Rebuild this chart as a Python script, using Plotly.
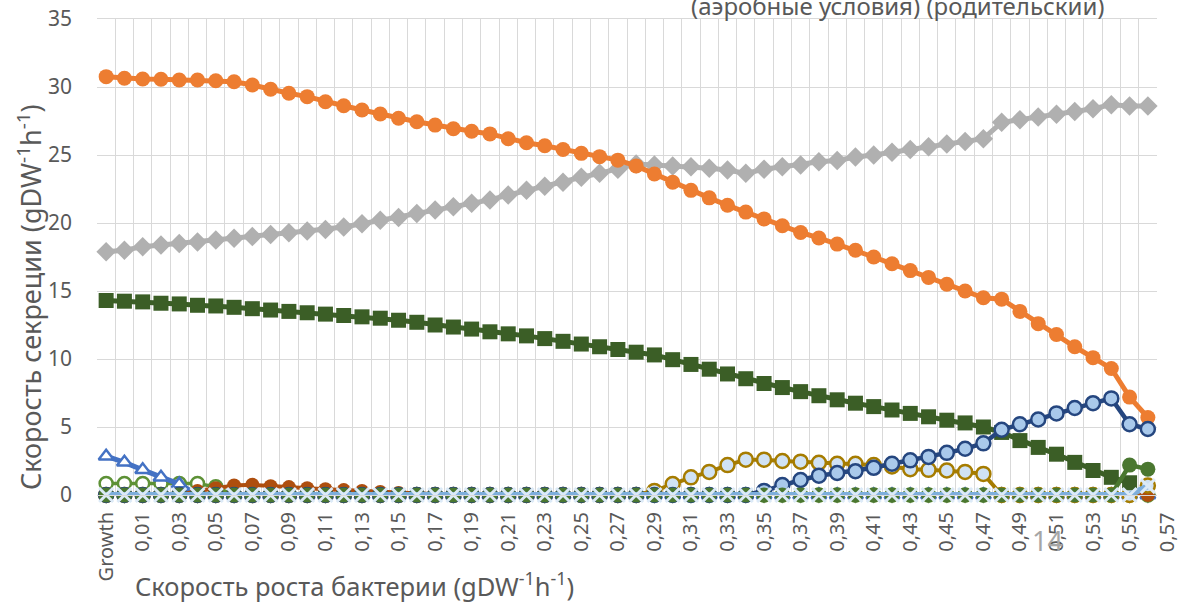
import plotly.graph_objects as go

# ---------------- data ----------------
categories = ["Growth", "0"] + ["0,%02d" % k for k in range(1, 57)]   # 58 categories
tick_labels = ["Growth"] + ["0,%02d" % k for k in range(1, 58, 2)]    # every 2nd category
extra_label = "0,57"

orange = [30.76, 30.64, 30.59, 30.57, 30.51, 30.51, 30.46, 30.39, 30.15, 29.83,
          29.54, 29.29, 28.92, 28.62, 28.31, 28.01, 27.70, 27.45, 27.20, 26.93,
          26.75, 26.55, 26.20, 25.90, 25.68, 25.40, 25.12, 24.88, 24.62, 24.20,
          23.60, 23.00, 22.40, 21.85, 21.30, 20.80, 20.30, 19.80, 19.30, 18.90,
          18.45, 18.00, 17.50, 17.00, 16.50, 16.00, 15.50, 15.00, 14.50, 14.40,
          13.50, 12.60, 11.80, 10.90, 10.10, 9.30, 7.20, 5.70]

gray = [17.89, 18.00, 18.26, 18.38, 18.50, 18.60, 18.75, 18.87, 19.00, 19.16,
        19.28, 19.42, 19.53, 19.70, 19.95, 20.20, 20.40, 20.70, 20.95, 21.20,
        21.45, 21.70, 22.06, 22.40, 22.70, 23.00, 23.36, 23.65, 23.95, 24.34,
        24.26, 24.19, 24.14, 24.02, 23.90, 23.65, 23.95, 24.14, 24.26, 24.50,
        24.60, 24.85, 25.00, 25.20, 25.40, 25.60, 25.80, 26.00, 26.20, 27.40,
        27.60, 27.80, 28.00, 28.20, 28.40, 28.70, 28.60, 28.60]

squares = [14.30, 14.25, 14.20, 14.10, 14.05, 13.95, 13.90, 13.80, 13.70, 13.60,
           13.50, 13.40, 13.30, 13.20, 13.10, 13.00, 12.85, 12.70, 12.50, 12.35,
           12.20, 12.00, 11.85, 11.70, 11.50, 11.30, 11.10, 10.90, 10.70, 10.50,
           10.30, 9.95, 9.60, 9.25, 8.90, 8.55, 8.20, 7.90, 7.60, 7.30,
           7.00, 6.75, 6.50, 6.25, 6.00, 5.75, 5.50, 5.30, 5.00, 4.60,
           4.00, 3.50, 3.00, 2.40, 1.80, 1.30, 0.90, None]

triangles = [2.85, 2.40, 1.85, 1.30, 0.80] + [0.0] * 53

green_open = [0.85, 0.85, 0.85, 0.85, 0.85, 0.85, 0.60] + [0.0] * 51

brown = [0.0] * 5 + [0.30, 0.50, 0.70, 0.75, 0.65, 0.58, 0.50, 0.42, 0.36, 0.30,
                     0.22, 0.15, 0.08] + [0.0] * 40

gold = [0.0] * 30 + [0.30, 0.80, 1.30, 1.70, 2.20, 2.60, 2.60, 2.50, 2.45, 2.37,
                     2.30, 2.30, 2.20, 2.10, 1.90, 1.85, 1.80, 1.70, 1.55, 0.0,
                     0.0, 0.0, 0.0, 0.0, 0.0, 0.0, 0.0, 0.70]

navy = [0.0] * 36 + [0.30, 0.73, 1.10, 1.42, 1.62, 1.75, 2.00, 2.30, 2.55, 2.80,
                     3.10, 3.40, 3.80, 4.80, 5.20, 5.55, 6.00, 6.40, 6.75, 7.10,
                     5.20, 4.85]

green_fill = [0.0] * 56 + [2.20, 1.90]

light_blue = [0.0] * 57 + [0.65]

dark_gray = [0.0] * 58

x = list(range(len(categories)))
n = len(categories)

fig = go.Figure()


def add(y, color, symbol, size, lw, fill=None, mline=None, mlw=0):
    fig.add_trace(go.Scatter(
        x=x, y=y, mode="lines+markers",
        line=dict(color=color, width=lw),
        marker=dict(symbol=symbol, size=size,
                    color=fill if fill else color,
                    line=dict(color=mline if mline else color, width=mlw)),
        showlegend=False, connectgaps=False, cliponaxis=False))


add(dark_gray, "#7F7F7F", "diamond", 13, 3)
add(green_open, "#5D9136", "circle", 13, 3.5, fill="white", mline="#5D9136", mlw=2.5)
add(triangles, "#4472C4", "triangle-up", 13, 5, fill="white", mline="#4472C4", mlw=2.5)
add(brown, "#AE4E0E", "circle", 14, 4)
add(gold, "#A67C00", "circle", 14, 4, fill="#D0E2F4", mline="#A67C00", mlw=2.5)
add(squares, "#3B5E26", "square", 15, 5)
add(gray, "#B0B0B0", "diamond", 15, 5)
add(orange, "#ED7D31", "circle", 15, 5)
add(navy, "#25467F", "circle", 14, 4.5, fill="#A9C9EB", mline="#25467F", mlw=2.5)
add(green_fill, "#4A7730", "circle", 15, 4.5)
add(light_blue, "#7DAEDC", "x-thin", 14, 6, fill="#DCEAF7", mline="#DCEAF7", mlw=3)

font_family = "Noto Sans, Open Sans, DejaVu Sans, sans-serif"
txt = "#595959"

L, R, T, B = 97, 24, 19, 108
PW, PH = 1181 - L - R, 603 - T - B

fig.update_layout(
    width=1181, height=603,
    margin=dict(l=L, r=R, t=T, b=B, autoexpand=False),
    paper_bgcolor="white", plot_bgcolor="white",
    font=dict(family=font_family, color=txt, size=20),
    xaxis=dict(
        range=[-0.5, n - 0.5],
        tickmode="array",
        tickvals=x[::2],
        ticktext=tick_labels[:len(x[::2])],
        tickangle=-90,
        showgrid=False,
        zeroline=False,
        showline=True, linecolor="#D9D9D9", linewidth=1, mirror=True,
        ticks="", ticklabelstandoff=8, automargin=False,
        tickfont=dict(size=20, color=txt),
        minor=dict(tick0=-0.5, dtick=1, showgrid=True, gridcolor="#D9D9D9", gridwidth=1),
    ),
    yaxis=dict(
        range=[0, 35], dtick=5,
        showgrid=True, gridcolor="#D9D9D9", gridwidth=1,
        zeroline=False, showline=False,
        ticks="", ticklabelstandoff=24, automargin=False,
        tickfont=dict(size=21, color=txt),
    ),
)

# last category label sitting beyond the plot area
fig.add_annotation(x=(n + 0.5) / n, y=0, xref="paper", yref="paper",
                   text=extra_label, textangle=-90, showarrow=False,
                   xanchor="center", yanchor="top", yshift=-15,
                   font=dict(size=20, color=txt))

# axis titles
fig.add_annotation(xref="paper", yref="paper", x=(30 - L) / PW, y=(495 - 297) / PH,
                   xanchor="center", yanchor="middle",
                   text="Скорость секреции (gDW<sup>-1</sup>h<sup>-1</sup>)",
                   showarrow=False, textangle=-90, font=dict(size=27, color=txt))

fig.add_annotation(xref="paper", yref="paper", x=(133 - L) / PW, y=-(584 - 495) / PH,
                   xanchor="left", yanchor="middle",
                   text="Скорость роста бактерии (gDW<sup>-1</sup>h<sup>-1</sup>)",
                   showarrow=False, font=dict(size=25.5, color=txt))

# cut-off title and slide number
fig.add_annotation(xref="paper", yref="paper", x=(898 - L) / PW, y=(495 - 5) / PH,
                   xanchor="center", yanchor="middle",
                   text="(аэробные условия) (родительский)",
                   showarrow=False, font=dict(size=24, color=txt))
fig.add_annotation(xref="paper", yref="paper", x=(1047 - L) / PW, y=-(540 - 495) / PH,
                   xanchor="center", yanchor="middle", text="14",
                   showarrow=False, font=dict(size=27, color="#A6A6A6"))

fig.write_html("out.html", config={"displayModeBar": False},
               post_script="document.body.style.margin='0';document.body.style.overflow='hidden';")
